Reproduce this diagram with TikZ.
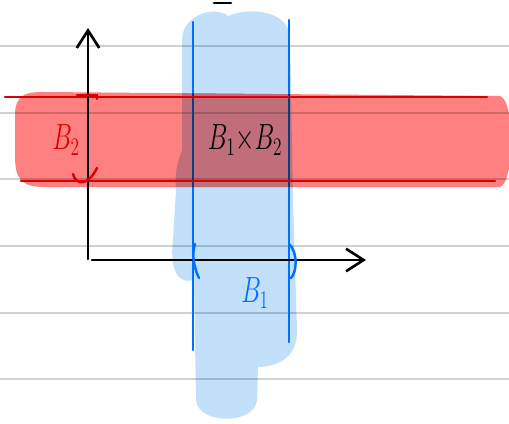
\documentclass[tikz,border=0pt]{standalone}
\usepackage{amsmath,amssymb,graphicx}
\usepackage{tikz}
\usetikzlibrary{arrows.meta}

\definecolor{bandblue}{RGB}{194,224,250}
\definecolor{bandred}{RGB}{255,128,128}
\definecolor{bandboth}{RGB}{193,110,123}
\definecolor{penred}{RGB}{221,0,0}
\definecolor{penblue}{RGB}{0,110,255}
\definecolor{pendark}{RGB}{10,60,130}

% Outlines of the two shaded bands (pixel units, y pointing down)
\newcommand{\blueband}{(182,40) .. controls (182,15) and (215,5) .. (228,16)
    .. controls (245,8) and (285,8) .. (290,35) -- (293,200) -- (297,330)
    .. controls (298,355) and (280,367) .. (258,367) -- (257,400)
    .. controls (255,425) and (198,425) .. (196,400) -- (194,280)
    .. controls (175,285) and (170,265) .. (173,240) -- (176,190)
    .. controls (174,175) and (178,160) .. (182,150) -- cycle}
\newcommand{\redband}{(15,115) .. controls (15,92) and (30,92) .. (45,92)
    -- (500,96) .. controls (515,100) and (515,182) .. (500,187)
    -- (45,187) .. controls (20,187) and (15,178) .. (15,155) -- cycle}
% Narrow, handwritten-looking labels
\newcommand{\hand}[1]{\scalebox{0.68}[1]{#1}}

\begin{document}
\begin{tikzpicture}[
        x=0.02cm, y=-0.02cm,
        every node/.style={inner sep=2pt,font=\huge},
        axis/.style={line width=1.5pt, black, line cap=round},
        ruled/.style={line width=0.8pt, black, opacity=0.18},
        redpen/.style={line width=1.4pt, penred, line cap=round},
        bluepen/.style={line width=1.4pt, penblue, line cap=round},
        >={Straight Barb[length=3.5mm, width=4.5mm]}
    ]
        \useasboundingbox (0,0) rectangle (509,423);

        % Shaded bands and their overlap
        \fill[bandblue] \blueband;
        \fill[bandred] \redband;
        \begin{scope}
            \clip \blueband;
            \fill[bandboth] \redband;
        \end{scope}

        % Notebook rulings, showing through the bands
        \foreach \y in {46,113,179,246,313,379}
            \draw[ruled] (0,\y) -- (509,\y);

        % Edges of B_1 (darker where they cross the red band)
        \draw[bluepen] (193,22) -- (193,350);
        \draw[bluepen] (289,20) -- (289,342);
        \begin{scope}
            \clip \redband;
            \draw[bluepen, pendark] (193,22) -- (193,350);
            \draw[bluepen, pendark] (289,20) -- (289,342);
        \end{scope}

        % Edges of B_2
        \draw[redpen] (5,97) -- (487,97);
        \draw[redpen] (21,181) -- (495,181);

        % Axes
        \coordinate (o)    at (88,259);
        \coordinate (ytop) at (88,28);
        \coordinate (xo)   at (92,260);
        \coordinate (xend) at (366,260);
        \draw[axis, ->] (o)  -- (ytop);
        \draw[axis, ->] (xo) -- (xend);
        \draw[axis] (214,3) -- (231,3);

        % Interval marks on the axes
        \draw[redpen] (77,95) -- (97,95) -- (97,99);
        \draw[redpen] (73,174) .. controls (76,186) and (88,186) .. (97,168);
        \draw[bluepen] (195,244) .. controls (191,256) and (195,270) .. (199,278);
        \draw[bluepen] (289,244) .. controls (298,252) and (297,272) .. (291,278);

        % Labels
        \node (b2)   [text=penred]  at (66,140)  {\hand{$B_2$}};
        \node (prod)                at (245,140) {\hand{$B_1{\times}B_2$}};
        \node (b1)   [text=penblue] at (255,293) {\hand{$B_1$}};

    \end{tikzpicture}
\end{document}
